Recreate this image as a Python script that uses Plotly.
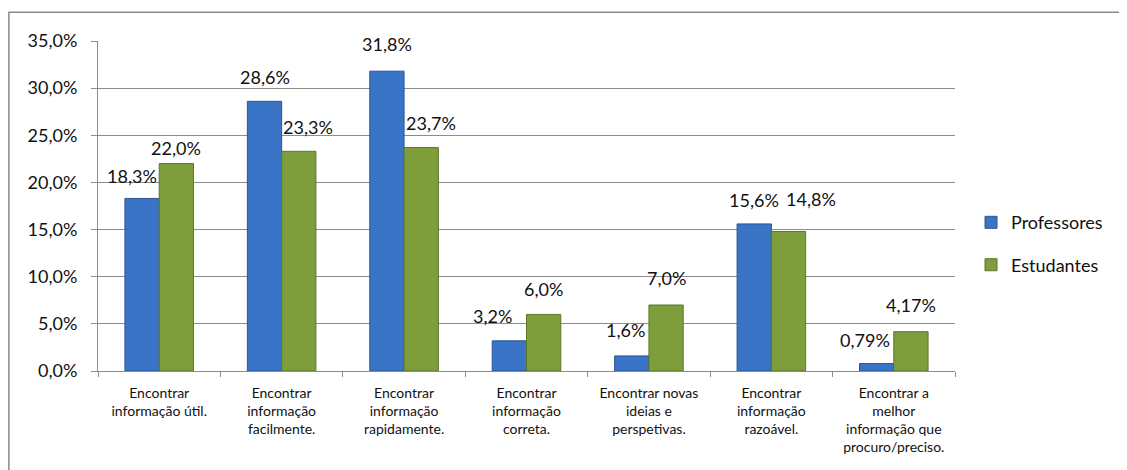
import plotly.graph_objects as go

categories = [
    "Encontrar<br>informação útil.",
    "Encontrar<br>informação<br>facilmente.",
    "Encontrar<br>informação<br>rapidamente.",
    "Encontrar<br>informação<br>correta.",
    "Encontrar novas<br>ideias e<br>perspetivas.",
    "Encontrar<br>informação<br>razoável.",
    "Encontrar a<br>melhor<br>informação que<br>procuro/preciso.",
]
professores = [18.3, 28.6, 31.8, 3.2, 1.6, 15.6, 0.79]
estudantes = [22.0, 23.3, 23.7, 6.0, 7.0, 14.8, 4.17]
y_ticks = [0, 5, 10, 15, 20, 25, 30, 35]

# data-label placement tweaks (pixels), mimicking the manually moved labels
prof_label_dx = [-10, 0, 0, -17, -6, 0, -12]
prof_label_dy = [9, 11, 14, 12, 13, 11, 11]
est_label_dx = [0, 9, 10, 0, 0, 22, 0]
est_label_dy = [3, 11, 12, 12, 14, 19, 14]


def fmt(v):
    s = f"{v:.1f}" if round(v, 1) == v else f"{v:.2f}"
    return s.replace(".", ",") + "%"


FONT = "Lato, 'Open Sans', sans-serif"
BARGAP = 0.44
half = (1 - BARGAP) / 4  # offset of each bar centre from category centre

fig = go.Figure()
fig.add_trace(go.Bar(
    name="Professores", x=categories, y=professores,
    marker=dict(color="#3a74c6", line=dict(color="#2a5590", width=1)),
    legendgroup="p",
))
fig.add_trace(go.Bar(
    name="Estudantes", x=categories, y=estudantes,
    marker=dict(color="#7e9e3c", line=dict(color="#5c7628", width=1)),
    legendgroup="e",
))

annotations = []
for i, v in enumerate(professores):
    annotations.append(dict(x=i - half, y=v, text=fmt(v), showarrow=False,
                            xanchor="center", yanchor="bottom",
                            xshift=prof_label_dx[i], yshift=prof_label_dy[i],
                            font=dict(size=18, family=FONT, color="#111")))
for i, v in enumerate(estudantes):
    annotations.append(dict(x=i + half, y=v, text=fmt(v), showarrow=False,
                            xanchor="center", yanchor="bottom",
                            xshift=est_label_dx[i], yshift=est_label_dy[i],
                            font=dict(size=18, family=FONT, color="#111")))

fig.update_layout(
    width=1119, height=462,
    margin=dict(l=90, r=172, t=33, b=99, autoexpand=False),
    paper_bgcolor="white", plot_bgcolor="white",
    barmode="group", bargap=BARGAP, bargroupgap=0,
    font=dict(family=FONT, color="#111"),
    showlegend=True,
    legend=dict(x=1.0187, y=0.386, xanchor="left", yanchor="middle",
                font=dict(size=18, family=FONT), tracegroupgap=16,
                traceorder="grouped", itemwidth=30),
    annotations=annotations,
    shapes=[dict(type="rect", xref="paper", yref="paper",
                 x0=-0.104, x1=1.4, y0=-0.6, y1=1.087,
                 line=dict(color="#8a8a8a", width=1.5), layer="below")],
)
fig.update_yaxes(
    range=[0, 35], tickvals=y_ticks, ticktext=[fmt(float(t)) for t in y_ticks],
    showgrid=True, gridcolor="#8c8c8c", gridwidth=1, automargin=False,
    showline=True, linecolor="#8c8c8c", ticks="outside", ticklen=6,
    tickcolor="#8c8c8c", tickfont=dict(size=18, family=FONT, color="#111"),
    ticklabelstandoff=10, zeroline=False,
)
fig.update_xaxes(
    showline=True, linecolor="#8c8c8c", ticks="outside", ticklen=5,
    tickcolor="#8c8c8c", tickson="boundaries", automargin=False,
    tickfont=dict(size=14, family=FONT, color="#111"),
    ticklabelstandoff=9,
)

fig.write_html("out.html")
